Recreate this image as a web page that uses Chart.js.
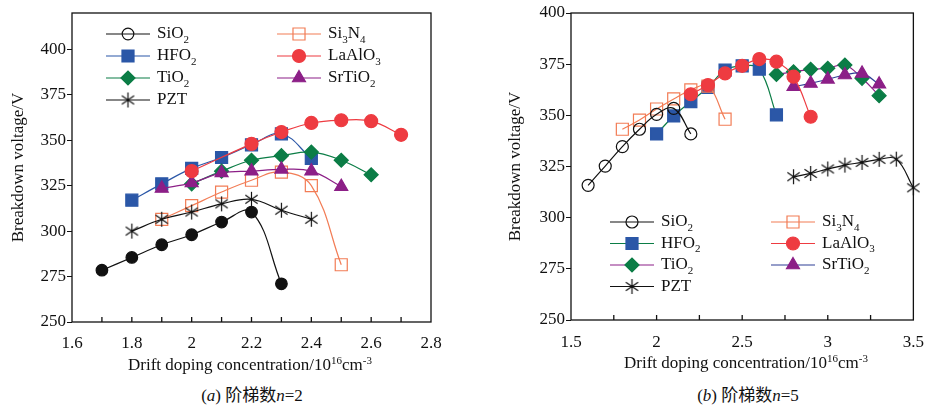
<!DOCTYPE html>
<html>
<head>
<meta charset="utf-8">
<title>Breakdown voltage vs drift doping</title>
<script src="https://cdn.jsdelivr.net/npm/chart.js@4/dist/chart.umd.min.js"></script>
<style>
  body { margin: 0; background: #fff; }
  #wrap { position: relative; width: 936px; height: 405px; font-family: "Liberation Serif", "Noto Sans CJK SC", serif; color: #111; }
  canvas { position: absolute; top: 0; }
  .xtitle, .caption { position: absolute; font-size: 17px; white-space: nowrap; transform: translateX(-50%); line-height: 20px; }
  sup { font-size: 11px; vertical-align: 6px; line-height: 0; }
</style>
</head>
<body>
<div id="wrap">
  <canvas id="chartA" width="468" height="372" style="left:0"></canvas>
  <canvas id="chartB" width="468" height="372" style="left:468px"></canvas>
  <div class="xtitle" style="left:250px; top:355px">Drift doping concentration/10<sup>16</sup>cm<sup>-3</sup></div>
  <div class="xtitle" style="left:746px; top:353px">Drift doping concentration/10<sup>16</sup>cm<sup>-3</sup></div>
  <div class="caption" style="left:252px; top:386px">(<i>a</i>) 阶梯数<i>n</i>=2</div>
  <div class="caption" style="left:748px; top:386px">(<i>b</i>) 阶梯数<i>n</i>=5</div>
</div>
<script>
// n = 2
const xSiO2A = [1.7, 1.8, 1.9, 2.0, 2.1, 2.2, 2.3];
const ySiO2A = [278.5, 285.5, 292.5, 298, 305, 310.5, 271];
const xSi3N4A = [1.9, 2.0, 2.1, 2.2, 2.3, 2.4, 2.5];
const ySi3N4A = [306.5, 314, 321.5, 328, 332.5, 325, 281.5];
const xHfO2A = [1.8, 1.9, 2.0, 2.1, 2.2, 2.3, 2.4];
const yHfO2A = [317, 326, 334.5, 340.5, 347.5, 353.5, 340];
const xLaAlO3A = [2.0, 2.2, 2.3, 2.4, 2.5, 2.6, 2.7];
const yLaAlO3A = [333, 348, 354.5, 359.5, 361, 360.5, 353];
const xTiO2A = [2.0, 2.1, 2.2, 2.3, 2.4, 2.5, 2.6];
const yTiO2A = [326, 333, 339, 341.5, 343.5, 339, 331];
const xSrTiO2A = [1.9, 2.0, 2.1, 2.2, 2.3, 2.4, 2.5];
const ySrTiO2A = [323.5, 326.5, 332, 333, 334, 333, 324.5];
const xPZTA = [1.8, 1.9, 2.0, 2.1, 2.2, 2.3, 2.4];
const yPZTA = [300, 306.5, 310.5, 315, 317.5, 311.5, 306.5];

// n = 5
const xSiO2B = [1.6, 1.7, 1.8, 1.9, 2.0, 2.1, 2.2];
const ySiO2B = [315.8, 325.2, 334.7, 343.2, 350.5, 353.4, 340.9];
const xSi3N4B = [1.8, 1.9, 2.0, 2.1, 2.2, 2.3, 2.4];
const ySi3N4B = [343.2, 347.7, 353.1, 358, 362.4, 364.3, 348.1];
const xHfO2B = [2.0, 2.1, 2.2, 2.3, 2.4, 2.5, 2.6, 2.7];
const yHfO2B = [340.9, 349.7, 356.7, 363.7, 372.1, 374.2, 372.6, 350.2];
const xLaAlO3B = [2.2, 2.3, 2.4, 2.5, 2.6, 2.7, 2.8, 2.9];
const yLaAlO3B = [360.3, 364.8, 370.5, 374.2, 377.5, 376.2, 368.9, 349.3];
const xTiO2B = [2.7, 2.8, 2.9, 3.0, 3.1, 3.2, 3.3];
const yTiO2B = [370, 371.3, 372.5, 373, 374.6, 368.1, 359.6];
const xSrTiO2B = [2.8, 2.9, 3.0, 3.1, 3.2, 3.3];
const ySrTiO2B = [364, 365.6, 367.6, 369.7, 370.5, 365.2];
const xPZTB = [2.8, 2.9, 3.0, 3.1, 3.2, 3.3, 3.4, 3.5];
const yPZTB = [320, 321.6, 323.8, 325.7, 327, 328.5, 328.6, 314.6];

// legend reads column by column, four rows per column
const legendOrder = ["SiO2", "HFO2", "TiO2", "PZT", "Si3N4", "LaAlO3", "SrTiO2"];

const FONT = '"Liberation Serif", serif';
const BLACK = "#111";
const BLUE = "#2b57a7";
const RED = "#ee3b41";
const GREEN = "#0b7d46";
const PURPLE = "#8c1f87";
const ORANGE = "#f27c55";
const NAVY = "#2e3f95";

function asterisk(size, color) {
  const c = document.createElement("canvas");
  c.width = c.height = size;
  const g = c.getContext("2d");
  const m = size / 2, r = size / 2 - 1;
  g.strokeStyle = color;
  g.lineWidth = 1.2;
  g.beginPath();
  [90, 35, 145].forEach(function (a) {
    const t = a * Math.PI / 180;
    g.moveTo(m - r * Math.cos(t), m - r * Math.sin(t));
    g.lineTo(m + r * Math.cos(t), m + r * Math.sin(t));
  });
  g.stroke();
  return c;
}

const star = asterisk(17, BLACK);

function series(label, xs, ys, style) {
  return Object.assign({
    label: label,
    data: xs.map(function (x, i) { return { x: x, y: ys[i] }; }),
    showLine: true,
    tension: 0.4,
    borderWidth: 1.2,
    pointBorderWidth: 1.2,
    clip: false,
  }, style);
}

// frame round the plot area plus inward ticks on the x axis
const framePlugin = {
  id: "frame",
  beforeDatasetsDraw(chart, args, opts) {
    const ctx = chart.ctx, a = chart.chartArea, x = chart.scales.x;
    ctx.save();
    ctx.strokeStyle = BLACK;
    ctx.lineWidth = 1.3;
    ctx.strokeRect(a.left, a.top, a.right - a.left, a.bottom - a.top);
    const n = Math.round((x.max - x.min) / opts.minor);
    ctx.beginPath();
    for (let i = 1; i < n; i++) {
      const px = x.getPixelForValue(x.min + i * opts.minor);
      ctx.moveTo(px, a.bottom);
      ctx.lineTo(px, a.bottom - 5);
    }
    ctx.stroke();
    ctx.restore();
  },
};

function drawChem(ctx, text, x, y) {
  let cx = x;
  text.match(/\d+|\D+/g).forEach(function (part) {
    const sub = /\d/.test(part);
    ctx.font = (sub ? "11px " : "17px ") + FONT;
    ctx.fillText(part, cx, sub ? y + 6 : y);
    cx += ctx.measureText(part).width;
  });
}

const legendPlugin = {
  id: "inlegend",
  afterDraw(chart, args, opts) {
    const ctx = chart.ctx;
    ctx.save();
    ctx.textBaseline = "middle";
    ctx.fillStyle = BLACK;
    chart.data.datasets.forEach(function (ds) {
      const k = legendOrder.indexOf(ds.label);
      const x0 = opts.cols[Math.floor(k / 4)];
      const y = opts.rows[k % 4];
      ctx.strokeStyle = ds.borderColor;
      ctx.lineWidth = 1.2;
      ctx.beginPath();
      ctx.moveTo(x0, y);
      ctx.lineTo(x0 + opts.len, y);
      ctx.stroke();
      ctx.fillStyle = ds.legendFill || ds.pointBackgroundColor;
      ctx.strokeStyle = ds.pointBorderColor;
      Chart.helpers.drawPoint(ctx, {
        pointStyle: ds.pointStyle,
        radius: ds.pointRadius,
        rotation: 0,
        borderWidth: 1.2,
      }, x0 + opts.len / 2, y);
      ctx.fillStyle = BLACK;
      drawChem(ctx, ds.label, x0 + opts.len + 7, y);
    });
    ctx.restore();
  },
};

function trimNum(v) {
  return String(+Number(v).toFixed(2));
}

function makeChart(id, datasets, xr, yr, box) {
  return new Chart(document.getElementById(id), {
    type: "scatter",
    data: { datasets: datasets },
    plugins: [framePlugin, legendPlugin],
    options: {
      responsive: false,
      animation: false,
      events: [],
      layout: { padding: { top: 13, right: box.right, left: 0, bottom: 0 } },
      scales: {
        x: {
          type: "linear",
          min: xr.min,
          max: xr.max,
          grid: { display: false, drawTicks: false },
          border: { display: false },
          ticks: {
            stepSize: xr.step,
            color: BLACK,
            padding: box.xPad,
            font: { family: FONT, size: 17 },
            callback: trimNum,
          },
          afterFit(s) { s.height = box.xHeight; },
        },
        y: {
          min: yr.min,
          max: yr.max,
          grid: { display: true, drawOnChartArea: false, drawTicks: true, tickLength: 5, color: BLACK },
          border: { display: false },
          ticks: {
            stepSize: 25,
            color: BLACK,
            padding: 1,
            font: { family: FONT, size: 17 },
          },
          afterBuildTicks(s) { s.ticks = s.ticks.filter(function (t) { return t.value <= 400; }); },
          afterFit(s) { s.width = box.yWidth; },
          title: {
            display: true,
            text: "Breakdown voltage/V",
            color: BLACK,
            font: { family: FONT, size: 17 },
            padding: { top: box.titlePad, bottom: 0 },
          },
        },
      },
      plugins: {
        legend: { display: false },
        tooltip: { enabled: false },
        frame: { minor: xr.minor },
        inlegend: box.legend,
      },
    },
  });
}

// drawing order: lower "order" ends up on top
makeChart("chartA", [
  series("SiO2", xSiO2A, ySiO2A, { order: 2, borderColor: BLACK, pointStyle: "circle", pointRadius: 5.8, pointBackgroundColor: BLACK, pointBorderColor: BLACK, legendFill: "rgba(0,0,0,0)" }),
  series("HFO2", xHfO2A, yHfO2A, { order: 6, borderColor: BLUE, pointStyle: "rect", pointRadius: 8.5, pointBackgroundColor: BLUE, pointBorderColor: BLUE }),
  series("TiO2", xTiO2A, yTiO2A, { order: 5, borderColor: GREEN, pointStyle: "rectRot", pointRadius: 7, pointBackgroundColor: GREEN, pointBorderColor: GREEN }),
  series("PZT", xPZTA, yPZTA, { order: 3, borderColor: BLACK, pointStyle: star, pointRadius: 8, pointBackgroundColor: BLACK, pointBorderColor: BLACK }),
  series("Si3N4", xSi3N4A, ySi3N4A, { order: 4, borderColor: ORANGE, pointStyle: "rect", pointRadius: 8.5, pointBackgroundColor: "rgba(0,0,0,0)", pointBorderColor: ORANGE }),
  series("LaAlO3", xLaAlO3A, yLaAlO3A, { order: 0, borderColor: RED, pointStyle: "circle", pointRadius: 6.5, pointBackgroundColor: RED, pointBorderColor: RED }),
  series("SrTiO2", xSrTiO2A, ySrTiO2A, { order: 1, borderColor: PURPLE, pointStyle: "triangle", pointRadius: 7.5, pointBackgroundColor: PURPLE, pointBorderColor: PURPLE }),
], { min: 1.6, max: 2.8, step: 0.2, minor: 0.1 }, { min: 250, max: 420 }, {
  right: 37, yWidth: 72, xHeight: 50, xPad: 11, titlePad: 8,
  legend: { cols: [106, 277], rows: [34, 56, 78, 100], len: 44 },
});

makeChart("chartB", [
  series("SiO2", xSiO2B, ySiO2B, { order: 2, borderColor: BLACK, pointStyle: "circle", pointRadius: 6, pointBackgroundColor: "rgba(0,0,0,0)", pointBorderColor: BLACK }),
  series("HFO2", xHfO2B, yHfO2B, { order: 6, borderColor: GREEN, pointStyle: "rect", pointRadius: 8.5, pointBackgroundColor: BLUE, pointBorderColor: BLUE }),
  series("TiO2", xTiO2B, yTiO2B, { order: 5, borderColor: PURPLE, pointStyle: "rectRot", pointRadius: 7, pointBackgroundColor: GREEN, pointBorderColor: GREEN }),
  series("PZT", xPZTB, yPZTB, { order: 3, borderColor: BLACK, pointStyle: star, pointRadius: 8, pointBackgroundColor: BLACK, pointBorderColor: BLACK }),
  series("Si3N4", xSi3N4B, ySi3N4B, { order: 4, borderColor: ORANGE, pointStyle: "rect", pointRadius: 8.5, pointBackgroundColor: "rgba(0,0,0,0)", pointBorderColor: ORANGE }),
  series("LaAlO3", xLaAlO3B, yLaAlO3B, { order: 0, borderColor: RED, pointStyle: "circle", pointRadius: 6.5, pointBackgroundColor: RED, pointBorderColor: RED }),
  series("SrTiO2", xSrTiO2B, ySrTiO2B, { order: 1, borderColor: NAVY, pointStyle: "triangle", pointRadius: 7.5, pointBackgroundColor: PURPLE, pointBorderColor: PURPLE }),
], { min: 1.5, max: 3.5, step: 0.5, minor: 0.25 }, { min: 250, max: 400 }, {
  right: 10, yWidth: 103, xHeight: 52, xPad: 12, titlePad: 37,
  legend: { cols: [142, 303], rows: [222, 243.5, 265, 286.5], len: 44 },
});
</script>
</body>
</html>
